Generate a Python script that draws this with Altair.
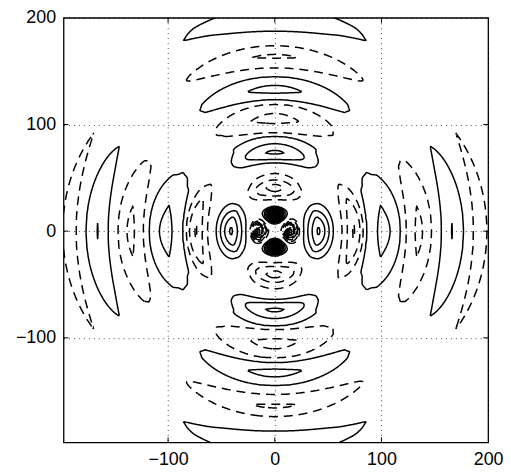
import numpy as np
import pandas as pd
import altair as alt

# ---- values ----
# field value (in contour-level units) along the x axis, by radius
px_r = [0, 4, 6, 15, 23, 25, 27, 31, 35, 39.5, 41, 42.5, 47, 51, 55, 58, 63, 68, 73, 74, 75, 80, 83, 84.5,
        86, 96, 102, 109, 118, 120, 123, 131, 135, 139, 147, 151, 156, 166, 177, 181, 186, 193, 199, 205, 300]
px_v = [0, 0, -1, -10, -1, 0, 1, 2, 3, 4, 4.15, 4, 3, 2, 1, 0, -1, -2, -3, -3.1, -3, -2, -1, 0,
        1, 2, 2.3, 2, 1, 0, -1, -2, -2.2, -2, -1, 0, 1, 2.05, 1, 0, -1, -1.6, -1, 0, 0]
# field value along the y axis, by radius
py_r = [0, 3, 7, 15, 23, 27, 29.5, 33, 37, 41, 44, 48, 54, 60, 64, 67, 72, 74, 76, 82, 89, 90.5, 92, 100,
        105, 111, 119, 121, 123, 129, 133, 137, 145, 147, 153, 162, 164, 166, 174, 180, 187, 198, 210, 220, 300]
py_v = [0, 0, 1, 14, 1, 0, -1, -2, -3, -3.3, -3, -2, -1, 0, 1, 2, 3, 3.15, 3, 2, 1, 0, -1, -2,
        -2.3, -2, -1, 0, 1, 2, 2.2, 2, 1, 0, -1, -2, -2.1, -2, -1, 0, 1, 1.8, 1, 0, 0]
# angular half-width (radians) of the lobes, by radius
sx_r = [0, 15, 41, 73, 102, 135, 166, 193, 300]
sx_v = [0.5, 0.5, 0.62, 0.68, 0.8, 0.7, 0.68, 0.85, 0.85]
sy_r = [0, 15, 41, 74, 105, 133, 164, 198, 300]
sy_v = [0.42, 0.44, 0.7, 0.62, 0.78, 0.75, 0.7, 0.7, 0.7]
# contour levels
pos_levels = list(range(1, 15))
neg_levels = list(range(-10, 0))
# axes
domain = [-198, 200]
tick_labels = [-100, 0, 100, 200]
inner_ticks = [-100, 0, 100]

# ---- field on a grid ----
xs = np.linspace(domain[0], domain[1], 400)
ys = np.linspace(domain[0], domain[1], 400)
X, Y = np.meshgrid(xs, ys)
R = np.hypot(X, Y)
TH = np.arctan2(np.abs(Y), np.abs(X))
wx = np.exp(-(TH / np.interp(R, sx_r, sx_v)) ** 2)
wy = np.exp(-((np.pi / 2 - TH) / np.interp(R, sy_r, sy_v)) ** 2)
Z = np.interp(R, px_r, px_v) * wx + np.interp(R, py_r, py_v) * wy


def march(Z, xs, ys, lev):
    ny, nx = Z.shape
    b = (Z > lev).astype(np.int8)
    c = b[:-1, :-1] + 2 * b[:-1, 1:] + 4 * b[1:, 1:] + 8 * b[1:, :-1]
    ii, jj = np.nonzero((c > 0) & (c < 15))
    nH = ny * (nx - 1)

    def eid(e, i, j):
        if e == 0:
            return i * (nx - 1) + j
        if e == 2:
            return (i + 1) * (nx - 1) + j
        if e == 3:
            return nH + i * nx + j
        return nH + i * nx + j + 1

    table = {1: [(3, 0)], 2: [(0, 1)], 3: [(3, 1)], 4: [(1, 2)], 6: [(0, 2)], 7: [(3, 2)],
             8: [(2, 3)], 9: [(0, 2)], 11: [(1, 2)], 12: [(3, 1)], 13: [(0, 1)], 14: [(3, 0)]}
    adj = {}
    for i, j in zip(ii, jj):
        k = int(c[i, j])
        if k in (5, 10):
            center = (Z[i, j] + Z[i, j + 1] + Z[i + 1, j + 1] + Z[i + 1, j]) / 4
            if k == 5:
                segs = [(0, 1), (2, 3)] if center > lev else [(3, 0), (1, 2)]
            else:
                segs = [(3, 0), (1, 2)] if center > lev else [(0, 1), (2, 3)]
        else:
            segs = table[k]
        for a, bb in segs:
            ea, eb = eid(a, i, j), eid(bb, i, j)
            adj.setdefault(ea, []).append(eb)
            adj.setdefault(eb, []).append(ea)

    def pt(e):
        if e < nH:
            i, j = divmod(e, nx - 1)
            z0, z1 = Z[i, j], Z[i, j + 1]
            t = (lev - z0) / (z1 - z0)
            return xs[j] + t * (xs[j + 1] - xs[j]), ys[i]
        i, j = divmod(e - nH, nx)
        z0, z1 = Z[i, j], Z[i + 1, j]
        t = (lev - z0) / (z1 - z0)
        return xs[j], ys[i] + t * (ys[i + 1] - ys[i])

    visited = set()
    chains = []
    starts = [n for n in adj if len(adj[n]) == 1] + list(adj)
    for s in starts:
        if s in visited:
            continue
        chain = [s]
        visited.add(s)
        prev, cur = None, s
        while True:
            nxt = [n for n in adj[cur] if n != prev and n not in visited]
            if not nxt:
                if len(chain) > 2 and s in adj[cur]:
                    chain.append(s)
                break
            prev, cur = cur, nxt[0]
            visited.add(cur)
            chain.append(cur)
        chains.append([pt(e) for e in chain])
    return chains


rows = []
lid = 0
for lev in pos_levels + neg_levels:
    for ch in march(Z, xs, ys, lev):
        if len(ch) < 2:
            continue
        for o, (x, y) in enumerate(ch):
            rows.append((round(float(x), 2), round(float(y), 2), lid, o, "pos" if lev > 0 else "neg"))
        lid += 1
df = pd.DataFrame(rows, columns=["x", "y", "id", "o", "s"])

W = H = 428
xscale = alt.Scale(domain=domain, nice=False, zero=False)
yscale = alt.Scale(domain=domain, nice=False, zero=False)

axis_common = dict(values=tick_labels, grid=True, gridDash=[1, 4], gridColor="black", gridWidth=0.9,
                   gridOpacity=0.8, ticks=False, domain=False, labelFont="Liberation Sans",
                   labelFontSize=18, labelColor="black", labelPadding=8, labelFlush=False, format="d",
                   title=None)
xaxis = alt.Axis(**axis_common)
yaxis = alt.Axis(**axis_common)

lines = alt.Chart(df).mark_line(color="black", strokeWidth=1.5, clip=True).encode(
    x=alt.X("x:Q", scale=xscale, axis=xaxis),
    y=alt.Y("y:Q", scale=yscale, axis=yaxis),
    detail="id:N",
    order="o:Q",
    strokeDash=alt.StrokeDash("s:N", scale=alt.Scale(domain=["pos", "neg"], range=[[1, 0], [9, 6]]),
                              legend=None),
)

tdf = pd.DataFrame({"x": inner_ticks, "y": inner_ticks})
tl = 5
top = alt.Chart(tdf).mark_rule(color="black", strokeWidth=1).encode(
    x=alt.X("x:Q", scale=xscale, axis=xaxis), y=alt.value(0), y2=alt.value(tl))
bottom = alt.Chart(tdf).mark_rule(color="black", strokeWidth=1).encode(
    x=alt.X("x:Q", scale=xscale, axis=xaxis), y=alt.value(H - tl), y2=alt.value(H))
left = alt.Chart(tdf).mark_rule(color="black", strokeWidth=1).encode(
    y=alt.Y("y:Q", scale=yscale, axis=yaxis), x=alt.value(0), x2=alt.value(tl))
right = alt.Chart(tdf).mark_rule(color="black", strokeWidth=1).encode(
    y=alt.Y("y:Q", scale=yscale, axis=yaxis), x=alt.value(W - tl), x2=alt.value(W))

chart = alt.layer(lines, top, bottom, left, right).properties(
    width=W, height=H,
    autosize=alt.AutoSizeParams(type="none"),
    padding={"left": 56, "top": 8, "right": 15, "bottom": 30},
).configure_view(stroke="black", strokeWidth=1.3)

chart.save("out.html", embed_options={"renderer": "svg", "actions": False})
